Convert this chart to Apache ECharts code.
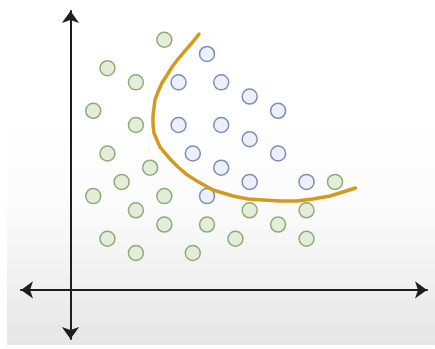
<!DOCTYPE html>
<html>
<head>
<meta charset="utf-8">
<script src="https://cdn.jsdelivr.net/npm/echarts@6/dist/echarts.min.js"></script>
<style>
  html, body { margin: 0; padding: 0; background: #ffffff; }
  #chart { width: 435px; height: 349px; }
</style>
</head>
<body>
<div id="chart"></div>
<script>
// class A (green) points
var greenX = [6.6, 2.6, 4.6, 1.6, 4.6, 2.6, 5.6, 3.6, 1.6, 6.6, 4.6, 6.6, 9.6, 2.6, 4.6, 8.6, 18.6, 12.6, 16.6, 14.6, 11.6, 16.6];
var greenY = [17.6, 15.6, 14.6, 12.6, 11.6, 9.6, 8.6, 7.6, 6.6, 6.6, 5.6, 4.6, 4.6, 3.6, 2.6, 2.6, 7.6, 5.6, 5.6, 4.6, 3.6, 3.6];
// class B (blue) points
var blueX = [9.6, 7.6, 10.6, 12.6, 14.6, 7.6, 10.6, 12.6, 8.6, 14.6, 10.6, 12.6, 16.6, 9.6];
var blueY = [16.6, 14.6, 14.6, 13.6, 12.6, 11.6, 11.6, 10.6, 9.6, 9.6, 8.6, 7.6, 7.6, 6.6];
// decision boundary
var curveX = [9.04, 8.54, 8.05, 7.56, 7.14, 6.79, 6.43, 6.15, 5.94, 5.87, 5.80, 5.80, 5.87, 6.08, 6.29, 6.65,
    7.07, 7.56, 8.12, 8.76, 9.39, 10.02, 10.72, 11.43, 12.48, 13.54, 14.73, 15.93, 17.05, 18.25, 19.16, 20.04];
var curveY = [18.00, 17.37, 16.81, 16.24, 15.68, 15.12, 14.56, 13.92, 13.36, 12.80, 12.24, 11.60, 11.04, 10.55, 10.06, 9.63,
    9.14, 8.65, 8.16, 7.74, 7.38, 7.03, 6.82, 6.61, 6.40, 6.33, 6.26, 6.26, 6.40, 6.61, 6.89, 7.17];

function zip(xs, ys) {
    var out = [];
    for (var i = 0; i < xs.length; i++) out.push([xs[i], ys[i]]);
    return out;
}

var chart = echarts.init(document.getElementById('chart'));

var axisLine = {
    onZero: true,
    symbol: ['arrow', 'arrow'],
    symbolSize: [13, 12],
    lineStyle: { color: '#1e1e1e', width: 2 }
};

var option = {
    animation: false,
    backgroundColor: '#ffffff',
    graphic: [{
        type: 'rect',
        z: -10,
        silent: true,
        shape: { x: 7, y: 120, width: 428, height: 225 },
        style: {
            fill: new echarts.graphic.LinearGradient(0, 0, 0, 1, [
                { offset: 0, color: '#ffffff' },
                { offset: 0.4, color: '#fbfbfb' },
                { offset: 1, color: '#e6e6e6' }
            ])
        }
    }],
    grid: { left: 21, right: 8, top: 11, bottom: 10 },
    xAxis: {
        type: 'value',
        min: -3.48,
        max: 25.07,
        axisLine: axisLine,
        axisTick: { show: false },
        axisLabel: { show: false },
        splitLine: { show: false }
    },
    yAxis: {
        type: 'value',
        min: -3.45,
        max: 19.62,
        axisLine: axisLine,
        axisTick: { show: false },
        axisLabel: { show: false },
        splitLine: { show: false }
    },
    series: [
        {
            type: 'scatter',
            data: zip(greenX, greenY),
            symbolSize: 15,
            itemStyle: { color: '#e3edda', borderColor: '#8dac78', borderWidth: 1.5, opacity: 1 }
        },
        {
            type: 'scatter',
            data: zip(blueX, blueY),
            symbolSize: 15,
            itemStyle: { color: '#ebf0f9', borderColor: '#7e8dba', borderWidth: 1.5, opacity: 1 }
        },
        {
            type: 'line',
            data: zip(curveX, curveY),
            smooth: false,
            showSymbol: false,
            z: 3,
            lineStyle: { color: '#d29b1d', width: 3.5, cap: 'round', join: 'round' }
        }
    ]
};

chart.setOption(option);
</script>
</body>
</html>
